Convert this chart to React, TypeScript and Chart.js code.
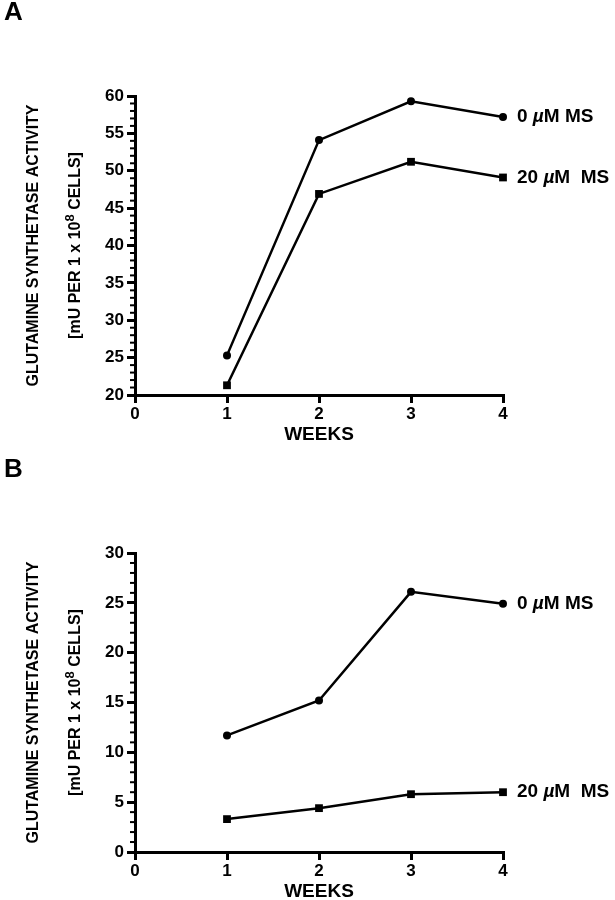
import React, { useEffect, useRef } from "react";
import { Chart, registerables } from "chart.js";

Chart.register(...registerables);

// ---------- data ----------
const weeks = [1, 2, 3, 4];
const panelA_0uM = [25.3, 54.1, 59.3, 57.2];
const panelA_20uM = [21.3, 46.9, 51.2, 49.1];
const panelB_0uM = [11.7, 15.2, 26.1, 24.9];
const panelB_20uM = [3.3, 4.4, 5.8, 6.0];
const seriesLabels = ["0 µM MS", "20 µM  MS"];
const panelLetters = ["A", "B"];
const panelA_yRange = [20, 60];
const panelB_yRange = [0, 30];
const xRange = [0, 4];
const yTitleLine1 = "GLUTAMINE SYNTHETASE ACTIVITY";
const yTitleLine2 = ["[mU PER 1 x 10", "8", " CELLS]"];
const xTitle = "WEEKS";

const FONT = '"Liberation Sans", Arial, Helvetica, sans-serif';

type Seg = { text: string; italic?: boolean; size: number; dy?: number };

function segWidth(ctx: CanvasRenderingContext2D, segs: Seg[]) {
  let w = 0;
  for (const s of segs) {
    ctx.font = `${s.italic ? "italic " : ""}bold ${s.size}px ${FONT}`;
    w += ctx.measureText(s.text).width;
  }
  return w;
}

function drawSegs(ctx: CanvasRenderingContext2D, segs: Seg[], x: number, y: number) {
  let cx = x;
  for (const s of segs) {
    ctx.font = `${s.italic ? "italic " : ""}bold ${s.size}px ${FONT}`;
    ctx.fillText(s.text, cx, y + (s.dy || 0));
    cx += ctx.measureText(s.text).width;
  }
}

function labelSegs(label: string, size: number): Seg[] {
  const parts = label.split("µ");
  const out: Seg[] = [];
  parts.forEach((p, i) => {
    if (i > 0) out.push({ text: "µ", italic: true, size });
    if (p) out.push({ text: p, size });
  });
  return out;
}

const decorPlugin = {
  id: "decor",
  afterDraw(chart: any) {
    const ctx: CanvasRenderingContext2D = chart.ctx;
    const y = chart.scales.y;
    const area = chart.chartArea;
    const opts = chart.options.plugins.decor;
    ctx.save();
    // minor ticks on y axis
    ctx.strokeStyle = "#000";
    ctx.lineWidth = 2;
    for (let v = y.min; v <= y.max; v += 1) {
      if (v % 5 === 0) continue;
      const py = y.getPixelForValue(v);
      ctx.beginPath();
      ctx.moveTo(area.left - 5, py);
      ctx.lineTo(area.left, py);
      ctx.stroke();
    }
    ctx.fillStyle = "#000";
    // series labels next to last point
    chart.data.datasets.forEach((ds: any, i: number) => {
      const meta = chart.getDatasetMeta(i);
      const pt = meta.data[meta.data.length - 1];
      ctx.textBaseline = "middle";
      ctx.textAlign = "left";
      drawSegs(ctx, labelSegs(seriesLabels[i], 19), pt.x + 14, pt.y);
    });
    // y title (two lines, rotated)
    const cy = (area.top + area.bottom) / 2;
    ctx.textBaseline = "middle";
    ctx.textAlign = "left";
    const line1: Seg[] = [{ text: yTitleLine1, size: 16 }];
    const line2: Seg[] = [
      { text: yTitleLine2[0], size: 16 },
      { text: yTitleLine2[1], size: 13, dy: -6 },
      { text: yTitleLine2[2], size: 16 },
    ];
    [
      { segs: line1, x: 34 },
      { segs: line2, x: 76 },
    ].forEach(({ segs, x }) => {
      ctx.save();
      ctx.translate(x, cy);
      ctx.rotate(-Math.PI / 2);
      const w = segWidth(ctx, segs);
      drawSegs(ctx, segs, -w / 2, 0);
      ctx.restore();
    });
    // panel letter
    ctx.font = `bold 26px ${FONT}`;
    ctx.textBaseline = "middle";
    ctx.textAlign = "left";
    ctx.fillText(opts.letter, 4, 13);
    ctx.restore();
  },
};

function Panel({ letter, s0, s20, yRange }: { letter: string; s0: number[]; s20: number[]; yRange: number[] }) {
  const ref = useRef<HTMLCanvasElement | null>(null);
  useEffect(() => {
    if (!ref.current) return;
    const tickFont = { family: FONT, size: 17, weight: "bold" as const };
    const mk = (vals: number[], style: string, r: number) => ({
      data: weeks.map((w, i) => ({ x: w, y: vals[i] })),
      borderColor: "#000",
      backgroundColor: "#000",
      borderWidth: 2.5,
      pointStyle: style,
      pointRadius: r,
      pointBackgroundColor: "#000",
      pointBorderColor: "#000",
      pointBorderWidth: 0,
      tension: 0,
      fill: false,
      clip: false as any,
    });
    const chart = new Chart(ref.current, {
      type: "line",
      data: {
        datasets: [mk(s0, "circle", 4), mk(s20, "rect", 5.5)] as any,
      },
      options: {
        responsive: false,
        animation: false,
        layout: { padding: { top: 96, right: 112, left: 0, bottom: 0 } },
        plugins: {
          legend: { display: false },
          tooltip: { enabled: false },
          decor: { letter },
        } as any,
        scales: {
          x: {
            type: "linear",
            min: xRange[0],
            max: xRange[1],
            ticks: { stepSize: 1, font: tickFont, color: "#000", padding: 1, maxRotation: 0 },
            grid: { drawOnChartArea: false, drawTicks: true, tickLength: 8, lineWidth: 3, color: "#000" },
            border: { display: true, width: 3, color: "#000" },
            title: {
              display: true,
              text: xTitle,
              color: "#000",
              font: { family: FONT, size: 19, weight: "bold" },
              padding: { top: 0, bottom: 4 },
            },
            afterFit: (s: any) => {
              s.height = 55;
            },
          },
          y: {
            type: "linear",
            min: yRange[0],
            max: yRange[1],
            ticks: { stepSize: 5, font: tickFont, color: "#000", padding: 3 },
            grid: { drawOnChartArea: false, drawTicks: true, tickLength: 8, lineWidth: 3, color: "#000" },
            border: { display: true, width: 3, color: "#000" },
            afterFit: (s: any) => {
              s.width = 135;
            },
          },
        },
      } as any,
      plugins: [decorPlugin],
    });
    return () => chart.destroy();
  }, [letter, s0, s20, yRange]);
  return <canvas ref={ref} width={615} height={450} style={{ display: "block", width: 615, height: 450 }} />;
}

export default function App() {
  return (
    <div style={{ position: "absolute", left: 0, top: 0, width: 615, height: 900, overflow: "hidden", background: "#fff" }}>
      <div style={{ position: "absolute", left: 0, top: 0 }}>
        <Panel letter={panelLetters[0]} s0={panelA_0uM} s20={panelA_20uM} yRange={panelA_yRange} />
      </div>
      <div style={{ position: "absolute", left: 0, top: 457 }}>
        <Panel letter={panelLetters[1]} s0={panelB_0uM} s20={panelB_20uM} yRange={panelB_yRange} />
      </div>
    </div>
  );
}
